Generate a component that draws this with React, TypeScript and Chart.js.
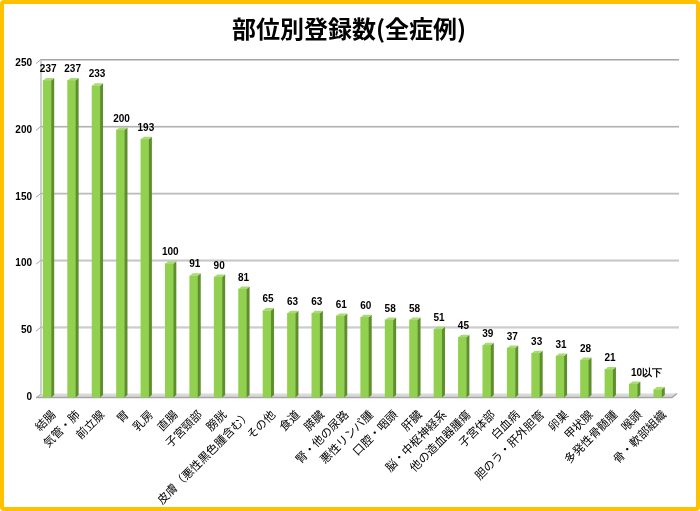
import React, { useEffect, useRef } from "react";
import { Chart, registerables } from "chart.js";

Chart.register(...registerables);

const chartTitle = "部位別登録数(全症例)";
const categories = [
  "結腸", "気管・肺", "前立腺", "胃", "乳房", "直腸", "子宮頸部", "膀胱",
  "皮膚（悪性黒色腫含む）", "その他", "食道", "膵臓", "腎・他の尿路", "悪性リンパ腫",
  "口腔・咽頭", "肝臓", "脳・中枢神経系", "他の造血器腫瘍", "子宮体部", "白血病",
  "胆のう・肝外胆管", "卵巣", "甲状腺", "多発性骨髄腫", "喉頭", "骨・軟部組織",
];
const counts = [237, 237, 233, 200, 193, 100, 91, 90, 81, 65, 63, 63, 61, 60, 58, 58, 51, 45, 39, 37, 33, 31, 28, 21, 10, 6];
const valueLabels = [
  "237", "237", "233", "200", "193", "100", "91", "90", "81", "65", "63", "63", "61", "60",
  "58", "58", "51", "45", "39", "37", "33", "31", "28", "21", "", "",
];
const smallNote = "10以下";
const yTicks = [0, 50, 100, 150, 200, 250];

const DEPTH_X = 5;
const DEPTH_Y = 4;
const BAR_DX = 3;
const BAR_DY = 2.5;

const wallPlugin = {
  id: "wall3d",
  beforeDatasetsDraw(chart: any) {
    const { ctx, chartArea, scales } = chart;
    const { left, right, bottom } = chartArea;
    const y = scales.y;
    ctx.save();
    // floor
    ctx.beginPath();
    ctx.moveTo(left + 1, bottom);
    ctx.lineTo(right + 2, bottom);
    ctx.lineTo(right + 2 + DEPTH_X, bottom - DEPTH_Y);
    ctx.lineTo(left + 1 + DEPTH_X, bottom - DEPTH_Y);
    ctx.closePath();
    ctx.fillStyle = "#D9D9D9";
    ctx.fill();
    ctx.strokeStyle = "#A6A6A6";
    ctx.lineWidth = 1.5;
    ctx.beginPath();
    ctx.moveTo(left + 1, bottom);
    ctx.lineTo(right + 2, bottom);
    ctx.lineTo(right + 2 + DEPTH_X, bottom - DEPTH_Y);
    ctx.stroke();
    // left wall
    ctx.strokeStyle = "#BFBFBF";
    ctx.lineWidth = 1.5;
    ctx.beginPath();
    ctx.moveTo(left + 1 + DEPTH_X, y.getPixelForValue(yTicks[yTicks.length - 1]) - DEPTH_Y);
    ctx.lineTo(left + 1 + DEPTH_X, bottom - DEPTH_Y);
    ctx.stroke();
    // gridlines
    for (const t of yTicks) {
      const py = y.getPixelForValue(t);
      ctx.strokeStyle = "#A6A6A6";
      ctx.lineWidth = 1;
      ctx.beginPath();
      ctx.moveTo(left + 1, py + 0.5);
      ctx.lineTo(left + 1 + DEPTH_X, py - DEPTH_Y + 0.5);
      if (t !== 0) ctx.lineTo(right + 4 + DEPTH_X, py - DEPTH_Y + 0.5);
      ctx.stroke();
      if (t !== 0) {
        ctx.strokeStyle = "#D0D0D0";
        ctx.beginPath();
        ctx.moveTo(left + 1 + DEPTH_X, py - DEPTH_Y + 1.5);
        ctx.lineTo(right + 4 + DEPTH_X, py - DEPTH_Y + 1.5);
        ctx.stroke();
      }
    }
    ctx.restore();
  },
  afterDatasetsDraw(chart: any) {
    const { ctx } = chart;
    const meta = chart.getDatasetMeta(0);
    ctx.save();
    meta.data.forEach((el: any, i: number) => {
      const { x, y, base, width } = el.getProps(["x", "y", "base", "width"], true);
      const r = x + width / 2;
      const l = x - width / 2;
      // side face
      ctx.beginPath();
      ctx.moveTo(r, y);
      ctx.lineTo(r + BAR_DX, y - BAR_DY);
      ctx.lineTo(r + BAR_DX, base - BAR_DY);
      ctx.lineTo(r, base);
      ctx.closePath();
      ctx.fillStyle = "#5E8F2C";
      ctx.fill();
      // top face
      ctx.beginPath();
      ctx.moveTo(l, y);
      ctx.lineTo(r, y);
      ctx.lineTo(r + BAR_DX, y - BAR_DY);
      ctx.lineTo(l + BAR_DX, y - BAR_DY);
      ctx.closePath();
      ctx.fillStyle = "#A9DB74";
      ctx.fill();
      // value label
      ctx.fillStyle = "#000";
      ctx.font = "bold 10px 'Liberation Sans', Arial, sans-serif";
      ctx.textAlign = "center";
      ctx.textBaseline = "middle";
      if (valueLabels[i]) ctx.fillText(valueLabels[i], x + 1, y - 11);
    });
    // note label over the last two bars
    const n = meta.data.length;
    const a = meta.data[n - 2];
    const b = meta.data[n - 1];
    ctx.fillText(smallNote, (a.x + b.x) / 2 + 1, Math.min(a.y, b.y) - 11);
    // title
    ctx.font = "bold 24px 'Noto Sans CJK JP', sans-serif";
    ctx.fillText(chartTitle, 345, 25);
    ctx.restore();
  },
};

export default function App() {
  const ref = useRef<HTMLCanvasElement>(null);
  useEffect(() => {
    if (!ref.current) return;
    const chart = new Chart(ref.current, {
      type: "bar",
      data: {
        labels: categories,
        datasets: [
          {
            data: counts,
            backgroundColor: "#92D050",
            borderWidth: 0,
            barThickness: 8,
          },
        ],
      },
      options: {
        animation: false,
        responsive: false,
        layout: { padding: { top: 59, right: 26, left: 0, bottom: 0 } },
        plugins: { legend: { display: false }, tooltip: { enabled: false }, title: { display: false } },
        scales: {
          x: {
            grid: { display: false, drawTicks: false },
            border: { display: false },
            ticks: {
              color: "#000",
              maxRotation: 45,
              minRotation: 45,
              autoSkip: false,
              padding: 10,
              labelOffset: 6,
              font: { family: "'Noto Sans CJK JP', sans-serif", size: 11.5 },
            },
            afterFit: (s: any) => {
              s.height = 109.5;
            },
          },
          y: {
            min: 0,
            max: 250,
            grid: { display: false, drawTicks: false },
            border: { display: false },
            ticks: {
              stepSize: 50,
              color: "#000",
              padding: 3,
              font: { family: "'Liberation Sans', Arial, sans-serif", size: 10, weight: "bold" },
            },
            afterFit: (s: any) => {
              s.width = 31;
            },
          },
        },
      },
      plugins: [wallPlugin],
    });
    return () => chart.destroy();
  }, []);
  return (
    <div
      style={{
        position: "absolute",
        left: 0,
        top: 0,
        width: 700,
        height: 511,
        boxSizing: "border-box",
        border: "4px solid #FFC000",
        borderRadius: 4,
        background: "#fff",
      }}
    >
      <canvas ref={ref} width={692} height={503} style={{ display: "block" }} />
    </div>
  );
}
